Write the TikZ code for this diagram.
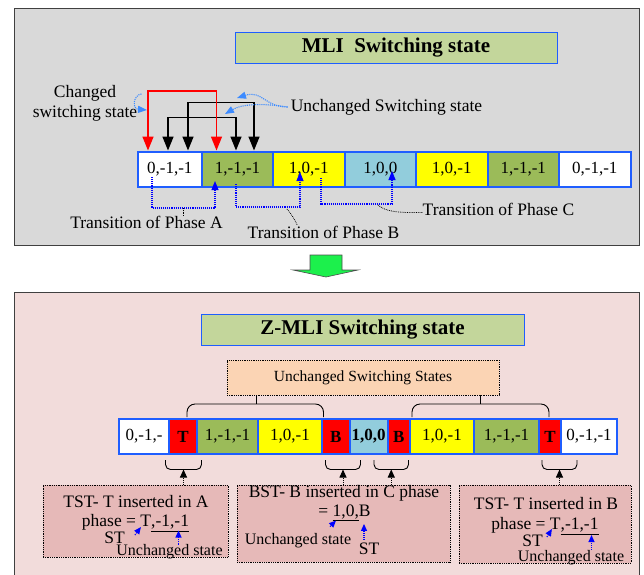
\documentclass[tikz,border=0pt]{standalone}
\usepackage{fontspec}
\setmainfont{Liberation Serif}
\usetikzlibrary{arrows.meta}

\definecolor{panelgray}{HTML}{D9D9D9}
\definecolor{panelpink}{HTML}{F2DCDB}
\definecolor{titlegreen}{HTML}{C3D69B}
\definecolor{cellgreen}{HTML}{9BBB59}
\definecolor{cellblue}{HTML}{92CDDC}
\definecolor{cellyellow}{HTML}{FFFF00}
\definecolor{cellred}{HTML}{FF0000}
\definecolor{peach}{HTML}{FBD4B4}
\definecolor{notepink}{HTML}{E6B9B8}
\definecolor{edgeblue}{HTML}{1F5EFF}
\definecolor{cueblue}{HTML}{3D8BFF}
\definecolor{arrowgreen}{HTML}{1CF04C}

\begin{document}
\begin{tikzpicture}[x=1pt, y=-1pt,
    every node/.style={inner sep=0pt},
    panel/.style={draw=black!75, line width=0.8pt},
    titlebox/.style={draw=edgeblue, line width=1pt, fill=titlegreen, minimum height=31pt,
        font=\fontsize{21}{21}\selectfont\bfseries},
    cell/.style={draw=edgeblue, line width=2pt, minimum height=35pt,
        font=\fontsize{17}{17}\selectfont},
    lbl/.style={font=\fontsize{17.5}{20}\selectfont},
    smalltxt/.style={font=\fontsize{16}{16}\selectfont},
    note/.style={draw=black, densely dotted, line width=0.8pt, fill=notepink},
    jump/.style={line width=1.5pt, {Triangle[width=11pt,length=14pt]}-{Triangle[width=11pt,length=14pt]}},
    trans/.style={blue, densely dotted, line width=1.1pt, -{Triangle[width=7pt,length=9pt]}},
    cue/.style={cueblue, densely dotted, line width=1.1pt, -{Triangle[width=7pt,length=9pt]}},
    hint/.style={blue, densely dotted, line width=1.1pt, -{Triangle[width=6pt,length=7pt]}},
    lead/.style={black, densely dotted, line width=0.8pt},
    brace/.style={black, line width=0.9pt, rounded corners=8pt},
    pointer/.style={black, densely dotted, line width=0.9pt, -{Triangle[width=7pt,length=8pt]}},
]
\useasboundingbox (0,0) rectangle (644,574);

% MLI panel
\draw[panel, fill=panelgray] (14,8) rectangle (639,245);
\node[titlebox, minimum width=322pt] (mli) at (396,48) {MLI~ Switching state};

\foreach \l/\r/\col/\txt [count=\i] in {137.5/202/white/{0,-1,-1}, 202/273/cellgreen/{1,-1,-1},
    273/344.5/cellyellow/{1,0,-1}, 344.5/416/cellblue/{1,0,0}, 416/487.5/cellyellow/{1,0,-1},
    487.5/559/cellgreen/{1,-1,-1}, 559/630.5/white/{0,-1,-1}}
  \node[cell, fill=\col, minimum width={(\r-\l)*1pt}] (a\i) at ({(\l+\r)/2},169) {\txt};

% switching jumps between the first two states
\draw[jump, black] ([xshift=31.5pt]a1.north west) -- ++(0,-33) -| ([xshift=35pt]a2.north west);
\draw[jump, black] ([xshift=51.5pt]a1.north west) -- ++(0,-48) -| ([xshift=53pt]a2.north west);
\draw[jump, red] ([xshift=11.5pt]a1.north west) -- ++(0,-59.5) -| ([xshift=15.5pt]a2.north west);

\node[lbl, align=center] (chg) at (85,103) {Changed\\switching state};
\draw[cue] ([shift={(4pt,9pt)}]chg.east) .. controls (133,95) and (132,109) .. (147,110);

\node[lbl] (unc) at (386.5,107) {Unchanged Switching state};
\draw[cue] ([xshift=-3pt]unc.west) .. controls (265,107) and (262,90) .. (237,98);
\draw[cue] ([xshift=-3pt]unc.west) .. controls (262,103) and (242,104) .. (225,114);

% phase transitions
\draw[trans] ([xshift=15.5pt,yshift=-8pt]a1.west) -- ++(0,31) -| ([xshift=14pt,yshift=-12pt]a2.west);
\draw[trans] ([xshift=35pt,yshift=-15pt]a2.west) -- ++(0,23) -| ([xshift=28pt,yshift=-3pt]a3.west);
\draw[trans] ([xshift=49pt,yshift=-9pt]a3.west) -- ++(0,26) -| ([xshift=48.5pt,yshift=-2pt]a4.west);

\node[lbl] (trA) at (146.5,222) {Transition of Phase A};
\node[lbl] (trB) at (323.5,232) {Transition of Phase B};
\node[lbl] (trC) at (498.5,209.5) {Transition of Phase C};
\draw[lead] (183,208) -- ([xshift=36.5pt]trA.north);
\draw[lead] (287,209) .. controls (292,215) and (295,220) .. ([xshift=-26pt]trB.north);
\draw[lead] (378,205) .. controls (385,211) and (395,213) .. ([yshift=-3pt]trC.west);

% arrow between the panels
\draw[black!70, line width=0.6pt, fill=arrowgreen] (310,255) -- (342,255) -- (342,270) -- (358,270)
    -- (326,277) -- (293,270) -- (310,270) -- cycle;

% Z-MLI panel
\draw[panel, fill=panelpink] (14,292) rectangle (639,580);
\node[titlebox, minimum width=323pt] (zmli) at (362.5,330) {Z-MLI Switching state};
\node[draw=black, densely dotted, line width=0.8pt, fill=peach, minimum width=272pt, minimum height=35pt,
    font=\fontsize{15.5}{15.5}\selectfont] (ucs) at (363,377.5) {Unchanged Switching States};

\draw[brace] (187,417) -- (187,404) -- (323.5,404) -- (323.5,417);
\draw[brace] (412,417) -- (412,404) -- (549,404) -- (549,417);
\draw[line width=0.9pt] ([xshift=-107pt]ucs.south) -- ++(0,9);
\draw[line width=0.9pt] ([xshift=117pt]ucs.south) -- ++(0,9);

\foreach \l/\r/\col/\txt [count=\i] in {119/169/white/{0,-1,-}, 169/197/cellred/{\bfseries T},
    197/258/cellgreen/{1,-1,-1}, 258/322/cellyellow/{1,0,-1}, 322/349.5/cellred/{\bfseries B},
    349.5/387.5/cellblue/{\bfseries 1,0,0}, 387.5/410/cellred/{\bfseries B}, 410/474/cellyellow/{1,0,-1},
    474/539/cellgreen/{1,-1,-1}, 539/561/cellred/{\bfseries T}, 561/617/white/{0,-1,-1}}
  \node[cell, fill=\col, minimum width={(\r-\l)*1pt}] (z\i) at ({(\l+\r)/2},436.5) {\txt};

% braces under the inserted states
\foreach \l/\r [count=\i] in {165.5/201.5, 325.5/360.5, 374/408.5, 542/577} {
  \draw[brace, rounded corners=5pt] (\l,460) -- (\l,469.5) -- (\r,469.5) -- (\r,460);
  \coordinate (tip\i) at ({(\l+\r)/2},469.5);
}

\node[note, minimum width=185pt, minimum height=72pt] (nA) at (135.5,521) {};
\node[note, minimum width=213pt, minimum height=77pt] (nB) at (343.5,523.5) {};
\node[note, minimum width=172pt, minimum height=78pt] (nC) at (545,524) {};
\draw[pointer] (tip1 |- nA.north) -- (tip1);
\draw[pointer] (tip2 |- nB.north) -- (tip2);
\draw[pointer] (tip3 |- nB.north) -- (tip3);
\draw[pointer] (tip4 |- nC.north) -- (tip4);

\node[lbl] (tA) at (136,502) {TST- T inserted in A};
\node[lbl] (pA) at (135.5,523) {phase = T\underline{,-1,-1}};
\node[lbl] (sA) at (114.5,538) {ST};
\node[smalltxt] (uA) at (169.5,552) {Unchanged state};
\draw[hint] ([shift={(10pt,3pt)}]sA.east) -- ++(6,-8);
\draw[hint] ([xshift=9pt]uA.north) -- ++(0,-14);

\node[lbl] (tB) at (344,493) {BST- B inserted in C phase};
\node[lbl] (pB) at (344.5,513) {= \underline{1,0,}B};
\node[smalltxt] (uB) at (298,541) {Unchanged state};
\node[lbl] (sB) at (369,549) {ST};
\draw[hint] ([xshift=32pt,yshift=7pt]uB.north) -- ++(6,-6);
\draw[hint] ([xshift=-5pt,yshift=3pt]sB.north) -- ++(0,-16);

\node[lbl] (tC) at (546,504) {TST- T inserted in B};
\node[lbl] (pC) at (545,526) {phase = T\underline{,-1,-1}};
\node[lbl] (sC) at (532.5,541) {ST};
\node[smalltxt] (uC) at (571,557.5) {Unchanged state};
\draw[hint] ([shift={(4pt,4pt)}]sC.east) -- ++(5,-8);
\draw[hint] ([xshift=20.5pt]uC.north) -- ++(0,-15);
\end{tikzpicture}
\end{document}
